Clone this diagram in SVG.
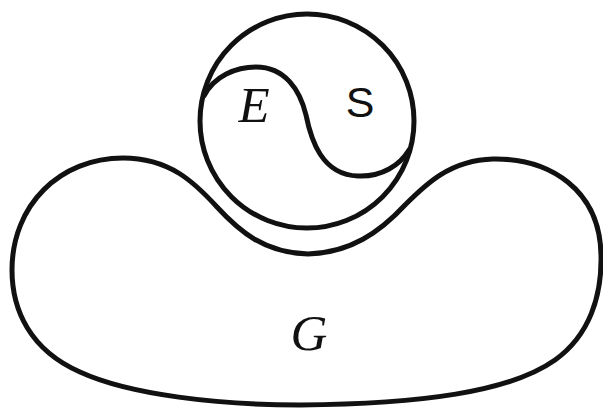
<svg xmlns="http://www.w3.org/2000/svg" width="603" height="410" viewBox="0 0 603 410">
<style>
.ln{fill:none;stroke:#111;stroke-width:5;stroke-linejoin:round;stroke-linecap:round}
.it{font-family:"Liberation Serif","DejaVu Serif",serif;font-style:italic;font-size:51px;fill:#111;text-anchor:middle}
.sn{font-family:"Liberation Sans","DejaVu Sans",sans-serif;font-size:43px;fill:#111;text-anchor:middle}
</style>
<rect width="603" height="410" fill="#fff"/>
<g id="G">
<path class="ln" d="M300 405 C420 404 510 392 555 360 C590 335 602 295 601 255 C600 190 550 158 493 159 C450 160 425 185 405 205 C380 232 350 253 308 254 C265 253 240 232 217 207 C195 183 170 158 123 158 C60 158 12 205 12 270 C12 310 30 350 80 372 C130 395 220 405 300 405 Z"/>
<text class="it" x="309" y="350">G</text>
</g>
<g id="ES">
<circle class="ln" cx="307" cy="121" r="107"/>
<path class="ln" d="M204 96 C214 76 236 67 256 67 C285 67 300 90 306 115 C311 140 322 175 358 176 C382 177 400 165 409 150"/>
</g>
<g id="E"><text class="it" x="254" y="122">E</text></g>
<g id="S"><text class="sn" x="360" y="117">S</text></g>
</svg>
